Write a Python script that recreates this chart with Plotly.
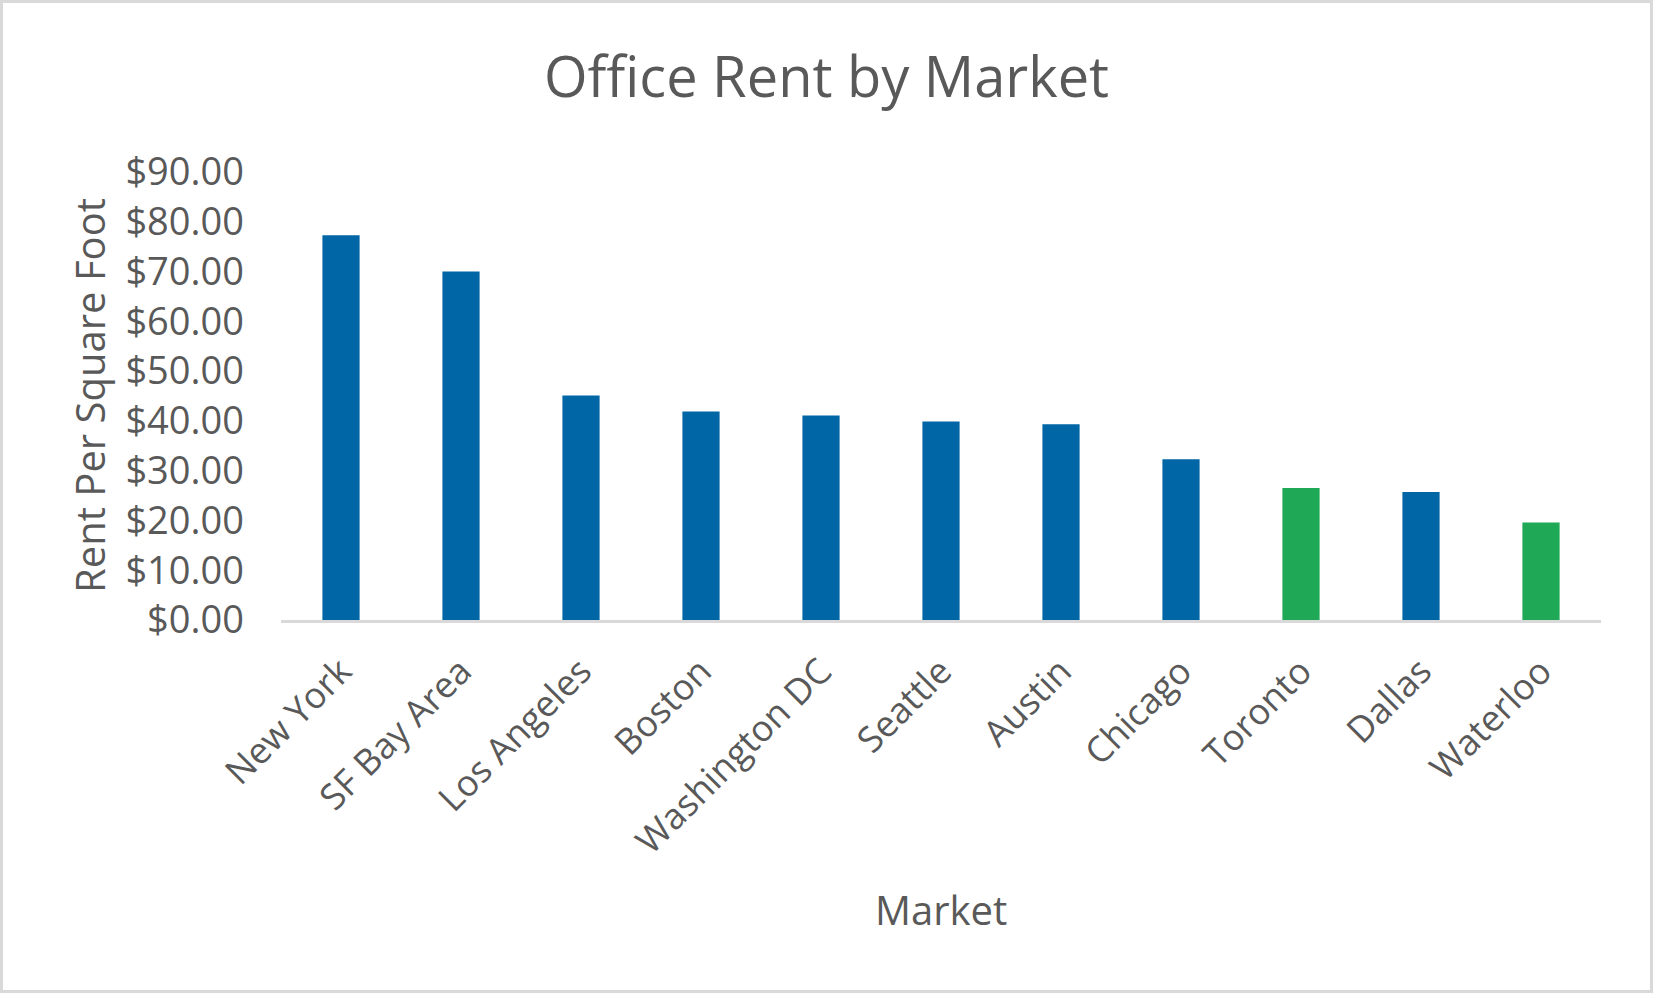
import plotly.graph_objects as go

markets = ["New York", "SF Bay Area", "Los Angeles", "Boston", "Washington DC",
           "Seattle", "Austin", "Chicago", "Toronto", "Dallas", "Waterloo"]
rent = [77.3, 70.0, 45.1, 41.9, 41.1, 39.9, 39.3, 32.3, 26.5, 25.7, 19.6]
canadian = ["Toronto", "Waterloo"]

y_ticks = [0, 10, 20, 30, 40, 50, 60, 70, 80, 90]

BLUE = "#0066A6"
GREEN = "#1FA855"
TXT = "#595959"
FONT = "Open Sans"

bar_colors = [GREEN if m in canadian else BLUE for m in markets]

W, H = 1653, 993
L, R, T, B = 281, 52, 172, 373
pw, ph = W - L - R, H - T - B

fig = go.Figure(go.Bar(x=markets, y=rent, marker=dict(color=bar_colors, line=dict(width=0))))

fig.update_layout(
    width=W, height=H,
    margin=dict(l=L, r=R, t=T, b=B),
    paper_bgcolor="white", plot_bgcolor="white",
    bargap=0.69,
    showlegend=False,
    font=dict(family=FONT, color=TXT),
    title=dict(text="Office Rent by Market", x=0.5, xref="container", xanchor="center",
               y=1 - 77 / H, yref="container", yanchor="middle",
               font=dict(size=56, color=TXT, family=FONT)),
)

fig.update_xaxes(
    tickangle=-45, tickfont=dict(size=36, color=TXT),
    showline=True, linecolor="#D9D9D9", linewidth=2.5,
    showgrid=False, ticks="", ticklabelstandoff=13,
    automargin=False,
)
fig.update_yaxes(
    range=[0, 90], tickvals=y_ticks,
    ticktext=["${:.2f}".format(v) for v in y_ticks],
    tickfont=dict(size=38, color=TXT),
    showgrid=False, zeroline=False, showline=False, ticks="",
    ticklabelstandoff=36,
    automargin=False,
)

# light frame around the whole chart
fig.add_shape(type="rect", xref="paper", yref="paper",
              x0=(1.5 - L) / pw, x1=(W - 1.5 - L) / pw,
              y0=-(B - 1.5) / ph, y1=1 + (T - 1.5) / ph,
              line=dict(color="#D9D9D9", width=3), fillcolor="rgba(0,0,0,0)", layer="below")

# axis titles placed as in the original
fig.add_annotation(text="Market", xref="paper", yref="paper", x=0.5,
                   y=-(909 - (H - B)) / ph, yanchor="middle", showarrow=False,
                   font=dict(size=40, color=TXT, family=FONT))
fig.add_annotation(text="Rent Per Square Foot", xref="paper", yref="paper",
                   x=(89 - L) / pw, y=0.5, xanchor="center", yanchor="middle",
                   textangle=-90, showarrow=False,
                   font=dict(size=40, color=TXT, family=FONT))

fig.write_html("out.html", config={"displayModeBar": False},
               post_script="document.body.style.margin='0';document.body.style.overflow='hidden';")
